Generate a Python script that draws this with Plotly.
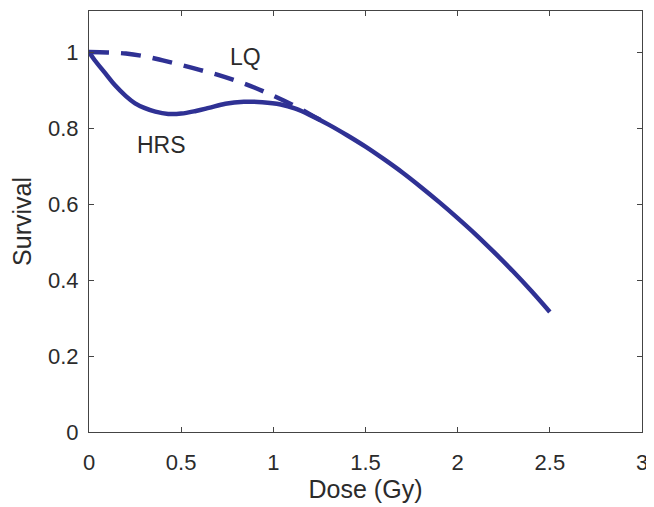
import plotly.graph_objects as go

# HRS curve (solid)
dose_hrs = [0, 0.03, 0.09, 0.14, 0.2, 0.25, 0.3, 0.36, 0.43, 0.5, 0.58, 0.65, 0.74, 0.84,
            0.94, 1.04, 1.12, 1.2, 1.3, 1.4, 1.5, 1.6, 1.7, 1.8, 1.9, 2.0, 2.1, 2.2, 2.3,
            2.4, 2.5]
surv_hrs = [1.0, 0.979, 0.943, 0.913, 0.884, 0.865, 0.853, 0.843, 0.837, 0.838, 0.845,
            0.853, 0.864, 0.869, 0.868, 0.862, 0.851, 0.834, 0.809, 0.781, 0.751, 0.718,
            0.683, 0.645, 0.605, 0.563, 0.519, 0.472, 0.423, 0.371, 0.316]

# LQ curve (dashed)
dose_lq = [0, 0.1, 0.2, 0.3, 0.4, 0.5, 0.6, 0.7, 0.8, 0.9, 1.0, 1.1, 1.2, 1.28]
surv_lq = [1.0, 0.999, 0.996, 0.989, 0.978, 0.966, 0.953, 0.94, 0.924, 0.906, 0.885,
           0.862, 0.836, 0.814]

x_ticks = [0, 0.5, 1, 1.5, 2, 2.5, 3]
y_ticks = [0, 0.2, 0.4, 0.6, 0.8, 1]

line_color = "#2f3194"
axis_color = "#444444"
text_color = "#2b2b2b"
font_family = "Liberation Sans, Arial, sans-serif"

fig = go.Figure()
fig.add_trace(go.Scatter(
    x=dose_lq, y=surv_lq, mode="lines", name="LQ",
    line=dict(color=line_color, width=4.5, dash="20px,12px", shape="spline"),
))
fig.add_trace(go.Scatter(
    x=dose_hrs, y=surv_hrs, mode="lines", name="HRS",
    line=dict(color=line_color, width=4.5, shape="spline"),
))

fig.add_annotation(x=0.849, y=0.988, text="LQ", showarrow=False,
                   font=dict(size=23, color=text_color, family=font_family))
fig.add_annotation(x=0.394, y=0.755, text="HRS", showarrow=False,
                   font=dict(size=23, color=text_color, family=font_family))

axis_common = dict(
    showgrid=False, zeroline=False, showline=True, mirror="ticks",
    linecolor=axis_color, linewidth=1.2, ticks="inside", ticklen=5,
    tickcolor=axis_color, tickwidth=1, automargin=False,
    tickfont=dict(size=22, color=text_color, family=font_family),
)

# the page puts the figure 8px in from the top-left, so the margins allow for it
fig.update_layout(
    width=646, height=499,
    margin=dict(l=81, r=12, t=3, b=75),
    paper_bgcolor="white", plot_bgcolor="white",
    showlegend=False,
    font=dict(family=font_family, color=text_color),
    xaxis=dict(range=[0, 3], tickvals=x_ticks, ticktext=[str(v) for v in x_ticks],
               title=dict(text="Dose (Gy)", font=dict(size=25, color=text_color), standoff=4),
               ticklabelstandoff=10, **axis_common),
    yaxis=dict(range=[0, 1.108], tickvals=y_ticks, ticktext=[str(v) for v in y_ticks],
               title=dict(text="Survival", font=dict(size=25, color=text_color), standoff=10),
               ticklabelstandoff=5, **axis_common),
)

fig.write_html("out.html")
